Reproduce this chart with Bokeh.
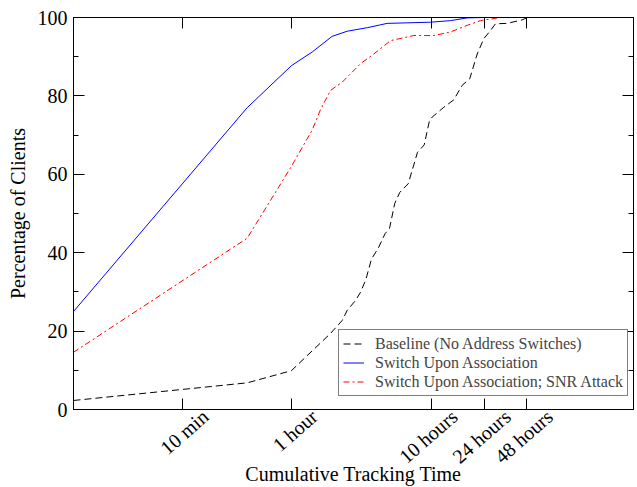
from bokeh.plotting import figure
from bokeh.models import (Range1d, FixedTicker, SingleIntervalTicker, LogAxis, LinearAxis,
                          LogScale, Legend, LegendItem, CustomJSTickFormatter)
from bokeh.embed import file_html
from bokeh.resources import INLINE

# ---------------- data ----------------
# time in seconds, percentage of clients
baseline_t = [100, 1741, 3600, 6850, 8300, 9020, 10330, 11220, 12240, 13450, 15000, 16830,
              18080, 19720, 21420, 24600, 28640, 31990, 34890, 36480, 44170, 52050, 59730,
              67690, 76490, 85310, 95220, 103300, 125300, 151700, 160300, 174900]
baseline_pct = [2.3, 6.8, 9.9, 19.4, 22.7, 25.3, 27.8, 29.9, 33.1, 38.4, 41.1, 44.9,
                46.2, 52.6, 55.4, 57.6, 65.6, 67.5, 73.7, 74.6, 77.1, 79.0, 82.7,
                84.4, 90.7, 94.6, 96.7, 98.4, 98.5, 99.2, 99.4, 100]

assoc_t = [100, 1741, 3600, 5070, 7040, 9020, 12530, 17400, 35480, 49320, 64860, 85310]
assoc_pct = [25.0, 77.0, 87.7, 91.2, 95.2, 96.5, 97.4, 98.5, 98.8, 99.2, 99.9, 100]

snr_t = [100, 1741, 3600, 5070, 5810, 6850, 8300, 11220, 13960, 18380, 26970, 37500,
         49320, 64860, 80740, 112200]
snr_pct = [14.6, 43.7, 62.0, 71.3, 76.5, 81.4, 83.5, 88.2, 90.7, 94.1, 95.4, 95.4,
           96.3, 98.0, 99.2, 100]

series_labels = ["Baseline (No Address Switches)", "Switch Upon Association",
                 "Switch Upon Association; SNR Attack"]

x_tick_values = [600, 3600, 36000, 86400, 172800]
x_tick_labels = ["10 min", "1 hour", "10 hours", "24 hours", "48 hours"]

FONT = "Liberation Serif"
X_MIN, X_MAX = 100, 1e6
LABEL_SHIFT = 1.46  # rotated tick labels sit slightly right of their ticks

p = figure(width=637, height=487, x_axis_type="log",
           x_range=Range1d(X_MIN, X_MAX), y_range=Range1d(0, 100),
           output_backend="svg", toolbar_location=None,
           min_border_left=73, min_border_right=4, min_border_top=17, min_border_bottom=78,
           background_fill_color="white", border_fill_color="white")
p.xgrid.visible = False
p.ygrid.visible = False
p.outline_line_color = "black"
p.outline_line_width = 1
p.outline_line_alpha = 1

blank = CustomJSTickFormatter(code="return ''")

def style_axis(ax, minor=True):
    ax.axis_line_color = "black"
    ax.major_tick_in = 11
    ax.major_tick_out = 0
    ax.minor_tick_in = 5 if minor else 0
    ax.minor_tick_out = 0
    ax.major_tick_line_color = "black"
    ax.minor_tick_line_color = "black" if minor else None
    ax.major_label_text_font = FONT
    ax.major_label_text_font_size = "20px"
    ax.major_label_text_color = "black"
    ax.axis_label_text_font = FONT
    ax.axis_label_text_font_size = "20px"
    ax.axis_label_text_font_style = "normal"
    ax.axis_label_text_color = "black"

# x axis (bottom): ticks only
xa = p.xaxis[0]
xa.ticker = FixedTicker(ticks=x_tick_values, minor_ticks=[])
xa.formatter = blank
style_axis(xa, minor=False)
xa.major_label_standoff = 0

# second bottom axis carrying the rotated labels
p.extra_x_ranges = {"labels": Range1d(X_MIN / LABEL_SHIFT, X_MAX / LABEL_SHIFT)}
p.extra_x_scales = {"labels": LogScale()}
xl = LogAxis(x_range_name="labels",
             ticker=FixedTicker(ticks=x_tick_values, minor_ticks=[]),
             major_label_overrides={v: s for v, s in zip(x_tick_values, x_tick_labels)})
style_axis(xl, minor=False)
xl.axis_line_color = None
xl.major_tick_line_color = None
xl.major_tick_in = 0
xl.major_label_orientation = 0.72
xl.major_label_standoff = 4
xl.axis_label = "Cumulative Tracking Time"
xl.axis_label_standoff = -16
p.add_layout(xl, "below")

# y axis (left)
ya = p.yaxis[0]
ya.ticker = SingleIntervalTicker(interval=20, num_minor_ticks=2)
style_axis(ya)
ya.major_label_standoff = 6
ya.axis_label = "Percentage of Clients"
ya.axis_label_standoff = 6

# mirrored axes
top = LogAxis(ticker=FixedTicker(ticks=x_tick_values, minor_ticks=[]), formatter=blank)
style_axis(top, minor=False)
top.major_label_standoff = 0
p.add_layout(top, "above")
right = LinearAxis(ticker=SingleIntervalTicker(interval=20, num_minor_ticks=2), formatter=blank)
style_axis(right)
right.major_label_standoff = 0
p.add_layout(right, "right")

# series
r1 = p.line(baseline_t, baseline_pct, line_color="black", line_dash="7 4", line_width=1)
r2 = p.line(assoc_t, assoc_pct, line_color="#0000ff", line_width=1)
r3 = p.line(snr_t, snr_pct, line_color="#ff0000", line_dash="6 3 2 3", line_width=1)

legend = Legend(items=[LegendItem(label=series_labels[0], renderers=[r1]),
                       LegendItem(label=series_labels[1], renderers=[r2]),
                       LegendItem(label=series_labels[2], renderers=[r3])],
                location=(265, 13), margin=0, padding=4, spacing=0,
                label_height=19, glyph_height=19, glyph_width=21, label_standoff=11,
                label_text_font=FONT, label_text_font_size="16px",
                border_line_color="black", border_line_width=1,
                background_fill_color="white", background_fill_alpha=1)
p.add_layout(legend)

open("out.html", "w").write(file_html(p, INLINE))
